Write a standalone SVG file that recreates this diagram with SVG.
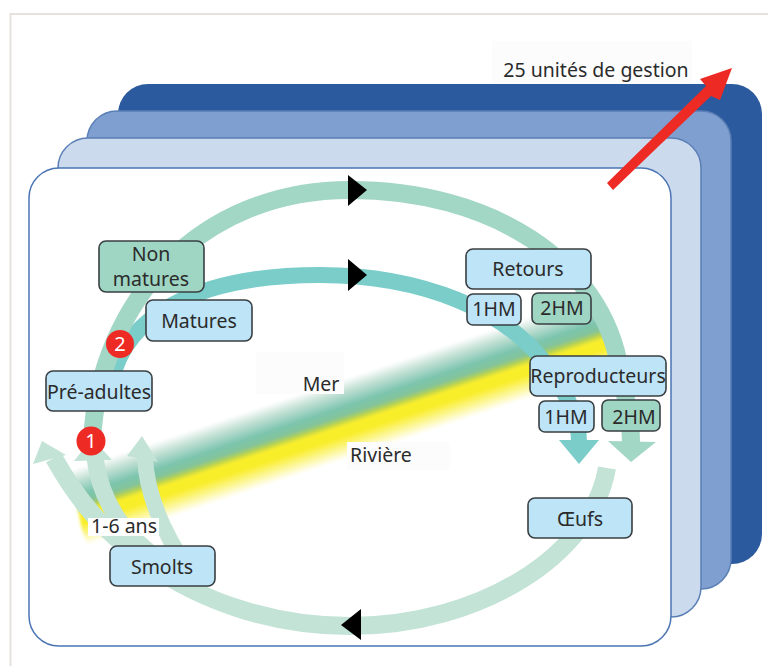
<svg xmlns="http://www.w3.org/2000/svg" width="768" height="666" viewBox="0 0 768 666">
<style>
text{font-family:"Noto Sans","Open Sans","Liberation Sans",sans-serif;font-size:19.5px;fill:#2b2b2b;text-anchor:middle}
.box{fill:#bde4f7;stroke:#3a3f42;stroke-width:1.6}
.gbox{fill:#9fd5c3;stroke:#3a3f42;stroke-width:1.6}
.ring{fill:none}
.outer{stroke:#a2d6c5;stroke-width:18}
.inner{stroke:#7bcdca;stroke-width:16}
.low{stroke:#c3e3d6}
.head{fill:#c3e3d6}
.num{fill:#ee2a24}
.numt{fill:#fff;font-size:20px}
.tri{fill:#000}
.faint{fill:#fcfcfc}
</style>
<defs>
<linearGradient id="band" gradientUnits="userSpaceOnUse" x1="300" y1="394" x2="324" y2="466">
<stop offset="0" stop-color="#fff"/>
<stop offset="0.12" stop-color="#cfe6dd"/>
<stop offset="0.34" stop-color="#7cc4ae"/>
<stop offset="0.45" stop-color="#82c39a"/>
<stop offset="0.52" stop-color="#b9d24c"/>
<stop offset="0.58" stop-color="#f9ee2c"/>
<stop offset="0.72" stop-color="#f9ee2c"/>
<stop offset="1" stop-color="#fff"/>
</linearGradient>
<filter id="soft" x="-5%" y="-5%" width="110%" height="110%"><feGaussianBlur stdDeviation="1.5"/></filter>
</defs>
<g id="frame"><path d="M768 14H10.500V666" fill="none" stroke="#e4e2da" stroke-width="2"/></g>
<rect x="492" y="41" width="200" height="44" class="faint"/>
<g id="stack">
<rect x="118" y="84" width="644" height="480" rx="30" fill="#2c5a9e"/>
<rect x="87" y="111" width="644" height="478" rx="30" fill="#7f9fd1" stroke="#5a7fb5" stroke-width="1.500"/>
<rect x="58" y="138" width="643" height="479" rx="30" fill="#ccdaee" stroke="#5a7fb5" stroke-width="1.500"/>
<rect x="29" y="168" width="642" height="478" rx="30" fill="#fff" stroke="#4a74b4" stroke-width="1.500"/>
</g>
<polygon id="bande" points="70,471 300,394 596,295 618,367 300,474 88,545 82,530" fill="url(#band)" filter="url(#soft)"/>
<rect x="256" y="352" width="88" height="42" class="faint"/>
<rect x="347" y="442" width="103" height="28" class="faint"/>
<g id="connectors">
<path class="ring inner" d="M112 380C125 320 190 275 320 275C420 275 510 310 550 370C570 400 579 420 579 442"/>
<path class="ring outer" d="M92 440C100 300 200 190 350 190C490 190 602 260 620 370C626 400 631 420 631 442"/>
<path class="ring low" stroke-width="18" d="M607 468C592 555 480 626 350 626C270 626 200 600 150 565C110 537 80 505 54 458"/>
<path class="ring low" stroke-width="17" d="M172 570C130 540 102 510 95 458"/>
<path class="ring low" stroke-width="16" d="M205 590C170 550 147 500 145 458"/>
<polygon class="head" points="42,441 33,464 66,455"/>
<polygon class="head" points="92,438 74,461 112,460"/>
<polygon class="head" points="142,436 127,456 158,462"/>
<polygon fill="#7bcdca" points="559,440 599,440 579,464"/>
<polygon fill="#a2d6c5" points="608,441 656,442 631,462"/>
<polygon class="tri" points="348,175 348,206 367,190"/>
<polygon class="tri" points="348,259 348,291 367,275"/>
<polygon class="tri" points="361,609 361,640 341,625"/>
<polygon fill="#ee2a24" points="607,183 613,190 711,96 720,100 732,68 700,79 706,86"/>
</g>
<text x="596" y="77">25 unités de gestion</text>
<g id="non-matures"><rect class="gbox" x="99" y="241" width="105" height="51" rx="7"/><text x="151" y="261">Non</text><text x="151" y="286">matures</text></g>
<g id="matures"><rect class="box" x="146" y="300" width="106" height="41" rx="7"/><text x="199" y="328">Matures</text></g>
<g id="pre-adultes"><rect class="box" x="46" y="371" width="106" height="40" rx="7"/><text x="99" y="399">Pré-adultes</text></g>
<g id="smolts"><rect class="box" x="110" y="546" width="105" height="40" rx="7"/><text x="162" y="574">Smolts</text></g>
<g id="retours"><rect class="box" x="466" y="249" width="125" height="40" rx="7"/><text x="528" y="276">Retours</text></g>
<g id="retours-1hm"><rect class="box" x="467" y="294" width="54" height="31" rx="6"/><text x="494" y="316">1HM</text></g>
<g id="retours-2hm"><rect class="gbox" x="532" y="293" width="59" height="31" rx="6"/><text x="562" y="315">2HM</text></g>
<g id="reproducteurs"><rect class="box" x="530" y="356" width="136" height="40" rx="7"/><text x="598" y="383">Reproducteurs</text></g>
<g id="repro-1hm"><rect class="box" x="539" y="401" width="55" height="31" rx="6"/><text x="566" y="424">1HM</text></g>
<g id="repro-2hm"><rect class="gbox" x="602" y="400" width="58" height="31" rx="6"/><text x="634" y="424">2HM</text></g>
<g id="oeufs"><rect class="box" x="528" y="498" width="104" height="40" rx="7"/><text x="580" y="526">Œufs</text></g>
<g id="badge-1"><circle class="num" cx="91" cy="441" r="14.500"/><text class="numt" x="91" y="448">1</text></g>
<g id="badge-2"><circle class="num" cx="120" cy="344" r="14"/><text class="numt" x="120" y="351">2</text></g>
<rect x="88" y="518" width="71" height="18" fill="#fff"/>
<text x="124" y="533">1-6 ans</text>
<text x="321" y="391">Mer</text>
<text x="381" y="462">Rivière</text>
</svg>
